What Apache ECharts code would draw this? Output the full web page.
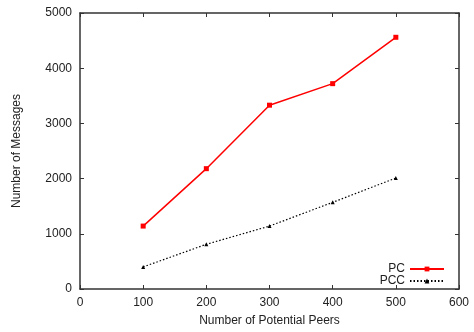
<!DOCTYPE html>
<html><head><meta charset="utf-8">
<script src="https://cdn.jsdelivr.net/npm/echarts@6/dist/echarts.min.js"></script>
<style>html,body{margin:0;padding:0;background:#fff}#c{width:474px;height:332px}</style>
</head><body><div id="c"></div>
<script>
const peers = [100, 200, 300, 400, 500];
const pcValues = [1140, 2180, 3330, 3720, 4560];
const pccValues = [400, 810, 1140, 1570, 2010];
const xTicks = [0, 100, 200, 300, 400, 500, 600];
const yTicks = [0, 1000, 2000, 3000, 4000, 5000];

const font = 'Liberation Sans, Arial, sans-serif';
const axisCol = '#333';
const chart = echarts.init(document.getElementById('c'));
const mkX = (pos, labels) => ({
  type: 'value', position: pos, min: xTicks[0], max: xTicks[xTicks.length - 1], interval: 100,
  name: labels ? 'Number of Potential Peers' : '', nameLocation: 'middle', nameGap: 26,
  nameTextStyle: {fontFamily: font, fontSize: 12, color: '#222'},
  axisLine: {show: true, onZero: false, lineStyle: {color: axisCol, width: 1.5}},
  axisTick: {show: true, inside: true, length: 4, lineStyle: {color: axisCol}},
  axisLabel: {show: labels, fontFamily: font, fontSize: 12, color: '#222', margin: 8, formatter: v => String(v)},
  splitLine: {show: false}
});
const mkY = (pos, labels) => ({
  type: 'value', position: pos, min: yTicks[0], max: yTicks[yTicks.length - 1], interval: 1000,
  name: labels ? 'Number of Messages' : '', nameLocation: 'middle', nameGap: 57,
  nameTextStyle: {fontFamily: font, fontSize: 12, color: '#222'},
  axisLine: {show: true, onZero: false, lineStyle: {color: axisCol, width: 1.5}},
  axisTick: {show: true, inside: true, length: 4, lineStyle: {color: axisCol}},
  axisLabel: {show: labels, fontFamily: font, fontSize: 12, color: '#222', margin: 8, formatter: v => String(v)},
  splitLine: {show: false}
});
chart.setOption({
  animation: false,
  grid: {left: 80, right: 15, top: 13, bottom: 42},
  xAxis: [mkX('bottom', true), mkX('top', false)],
  yAxis: [mkY('left', true), mkY('right', false)],
  legend: {
    orient: 'vertical', right: 24, bottom: 40, align: 'right',
    itemWidth: 34, itemHeight: 6, itemGap: 0,
    textStyle: {fontFamily: font, fontSize: 12, color: '#222'},
    data: ['PC', 'PCC']
  },
  series: [
    {name: 'PC', type: 'line', data: peers.map((p, i) => [p, pcValues[i]]),
     symbol: 'rect', symbolSize: 5,
     lineStyle: {color: '#ff0000', width: 1.5}, itemStyle: {color: '#ff0000'}},
    {name: 'PCC', type: 'line', data: peers.map((p, i) => [p, pccValues[i]]),
     symbol: 'triangle', symbolSize: 4,
     lineStyle: {color: '#000', width: 1.2, type: [1.5, 2]}, itemStyle: {color: '#000'}}
  ]
});
</script></body></html>
